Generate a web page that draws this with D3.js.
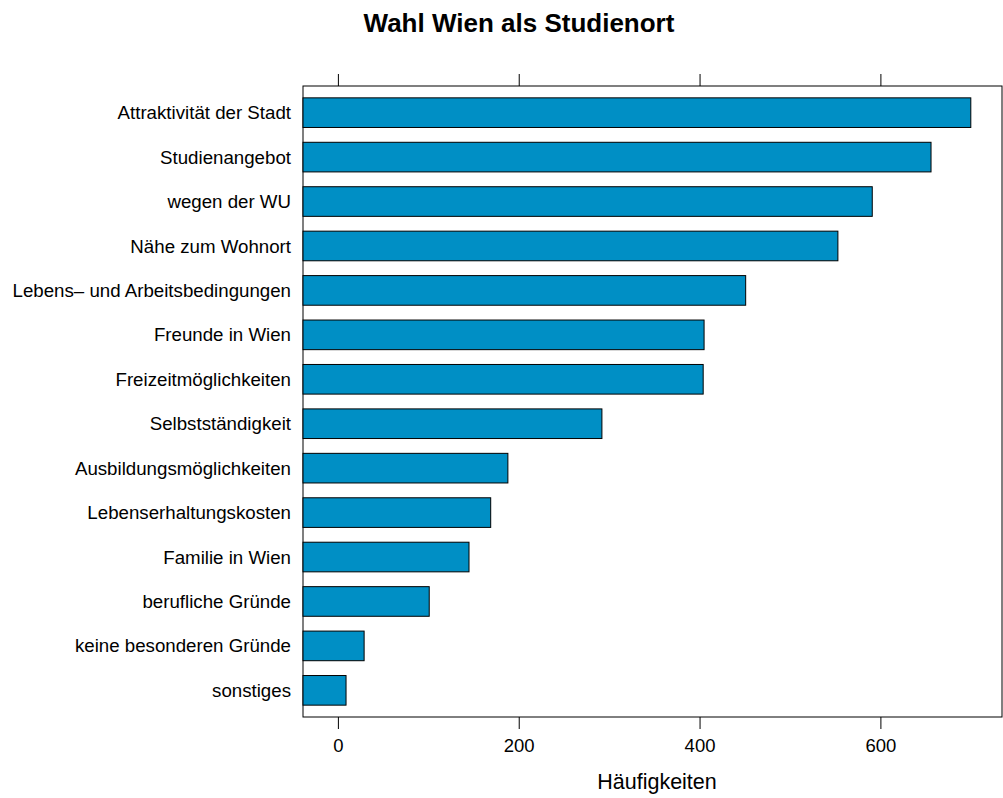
<!DOCTYPE html>
<html><head><meta charset="utf-8">
<script src="https://cdn.jsdelivr.net/npm/d3@7"></script>
<style>body{margin:0;background:#fff}svg{display:block;font-family:"Liberation Sans",Arial,sans-serif}</style>
</head><body>
<svg id="c" width="1003" height="798"></svg>
<script>
(function(){
const categories = ["Attraktivität der Stadt","Studienangebot","wegen der WU","Nähe zum Wohnort","Lebens\u2013 und Arbeitsbedingungen","Freunde in Wien","Freizeitmöglichkeiten","Selbstständigkeit","Ausbildungsmöglichkeiten","Lebenserhaltungskosten","Familie in Wien","berufliche Gründe","keine besonderen Gründe","sonstiges"];
const values = [700, 656, 591, 553, 451, 405, 404, 292, 188, 169, 145, 101, 29, 9];
const tickValues = [0, 200, 400, 600];
const title = "Wahl Wien als Studienort";
const xLabel = "Häufigkeiten";

const svg = d3.select("#c");
const L = 303, R = 1002, T = 86, B = 717;
const x = d3.scaleLinear().domain([-38.6, 734.5]).range([L, R]);
const n = categories.length;
const y = d3.scaleLinear().domain([0.4, n + 0.6]).range([T, B]);
const bh = (y(1) - y(0)) * 2 / 3;

svg.append("rect").attr("x", L).attr("y", T).attr("width", R - L).attr("height", B - T)
  .attr("fill", "none").attr("stroke", "#000").attr("stroke-width", 1);

svg.selectAll("rect.bar").data(values).join("rect").attr("class", "bar")
  .attr("x", L).attr("y", (d, i) => y(i + 1) - bh / 2)
  .attr("width", d => x(d) - L).attr("height", bh)
  .attr("fill", "#008fc5").attr("stroke", "#000").attr("stroke-width", 1);

svg.selectAll("text.cat").data(categories).join("text").attr("class", "cat")
  .attr("x", 291).attr("y", (d, i) => y(i + 1)).attr("dy", "0.35em")
  .attr("text-anchor", "end").attr("font-size", 18.7).text(d => d);

const gBottom = svg.append("g").attr("transform", `translate(0,${B})`)
  .call(d3.axisBottom(x).tickValues(tickValues).tickSize(12).tickPadding(10).tickFormat(d3.format("d")));
const gTop = svg.append("g").attr("transform", `translate(0,${T})`)
  .call(d3.axisTop(x).tickValues(tickValues).tickSize(12).tickFormat(""));
[gBottom, gTop].forEach(g => {
  g.select(".domain").remove();
  g.selectAll("line").attr("stroke", "#000");
  g.selectAll("text").attr("font-size", 18.5).attr("fill", "#000").attr("font-family", "Liberation Sans, Arial, sans-serif");
});

svg.append("text").attr("x", 519).attr("y", 32).attr("text-anchor", "middle")
  .attr("font-size", 26).attr("font-weight", "bold").text(title);
svg.append("text").attr("x", 657).attr("y", 789).attr("text-anchor", "middle")
  .attr("font-size", 21.5).text(xLabel);
})();
</script>
</body></html>
